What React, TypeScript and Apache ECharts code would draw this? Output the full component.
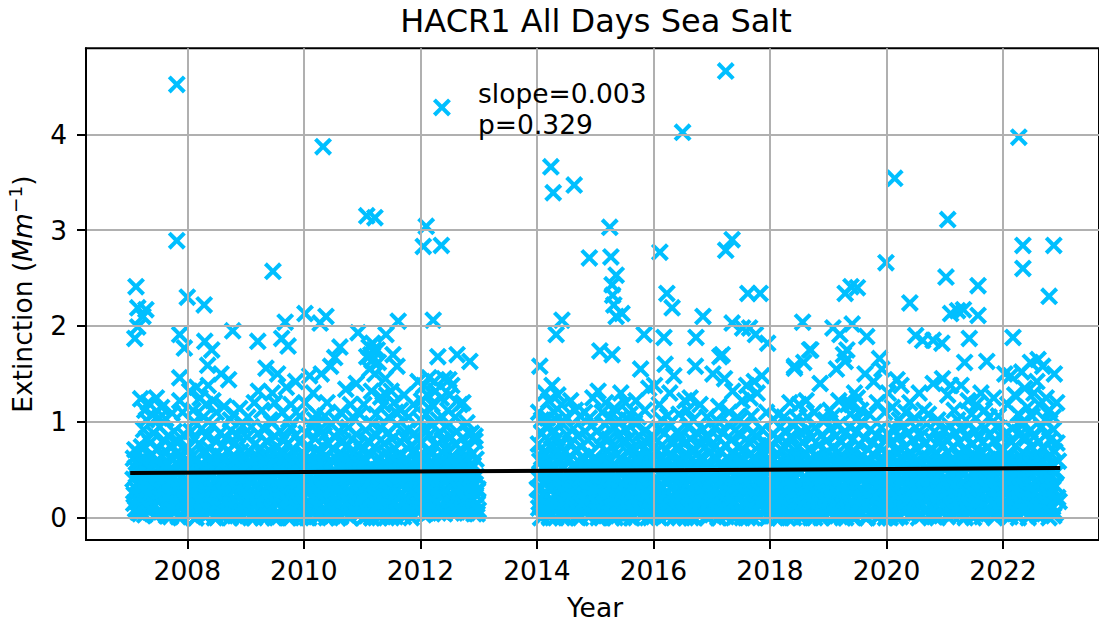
import React, { useEffect, useRef } from "react";
import * as echarts from "echarts";

const TITLE = "HACR1 All Days Sea Salt";
const X_TICKS = [2008, 2010, 2012, 2014, 2016, 2018, 2020, 2022];
const Y_TICKS = [0, 1, 2, 3, 4];
const TREND: [number, number][] = [[2007.02, 0.466], [2022.98, 0.518]];

// fraction of the year at which each reading of a year falls
const sampleOffsets = [
  .00,.013,.025,.038,.05,.063,.075,.088,.10,.113,.125,.138,.15,.163,.175,.188,
  .20,.213,.225,.238,.25,.263,.275,.288,.30,.313,.325,.338,.35,.363,.375,.388,
  .40,.413,.425,.438,.45,.463,.475,.488,.50,.513,.525,.538,.55,.563,.575,.588,
  .60,.613,.625,.638,.65,.663,.675,.688,.70,.713,.725,.738,.75,.763,.775,.788,
  .80,.813,.825,.838,.85,.863,.875,.888,.90,.913,.925,.938,.95,.963,.975,.988,
];
const sampleOffsetsB = [
  .006,.019,.031,.044,.056,.069,.081,.094,.106,.119,.131,.144,.156,.169,.181,.194,
  .206,.219,.231,.244,.256,.269,.281,.294,.306,.319,.331,.344,.356,.369,.381,.394,
  .406,.419,.431,.444,.456,.469,.481,.494,.506,.519,.531,.544,.556,.569,.581,.594,
  .606,.619,.631,.644,.656,.669,.681,.694,.706,.719,.731,.744,.756,.769,.781,.794,
  .806,.819,.831,.844,.856,.869,.881,.894,.906,.919,.931,.944,.956,.969,.981,.994,
];

const v2007 = [null,null,null,null,null,null,.62,.24,.71,.09,.45,.58,.16,.67,.33,.04,.52,.74,.28,.11,.92,.39,.61,.19,.83,.48,.07,.56,.30,.78,.13,.41,.66,.22,.88,.35,.02,.59,.47,.17,.72,.26,.95,.53,.06,.37,.64,.21,.81,.43,.10,.69,.29,.55,.85,.15,.40,.01,.76,.33,.60,.23,.90,.49,.08,.67,.36,.18,.79,.54,.27,.00,.63,.44,.12,.87,.31,.70,.20,.50];
const v2008 = [.38,.73,.11,.56,.25,.90,.03,.47,.65,.19,.82,.34,.00,.60,.42,.14,.77,.28,.52,.07,.93,.36,.68,.21,.49,.01,.85,.31,.59,.16,.72,.43,.09,.63,.26,.97,.54,.00,.39,.80,.18,.67,.30,.05,.57,.88,.23,.46,.12,.75,.35,.61,.02,.83,.27,.50,.15,.70,.40,.00,.91,.32,.64,.20,.53,.08,.78,.44,.24,.86,.13,.58,.37,.04,.69,.29,.96,.48,.17,.62];
const v2009 = [.55,.20,.84,.06,.41,.69,.28,.00,.95,.36,.62,.13,.50,.77,.23,.03,.44,.88,.31,.58,.10,.72,.38,.00,.65,.17,.92,.47,.26,.80,.05,.53,.33,.70,.12,.42,.99,.22,.60,.00,.85,.35,.48,.15,.74,.27,.57,.02,.90,.40,.19,.66,.30,.82,.08,.51,.24,.76,.00,.37,.63,.14,.94,.45,.29,.71,.04,.56,.18,.86,.34,.61,.11,.46,.79,.25,.00,.67,.39,.52];
const v2010 = [.29,.66,.04,.88,.43,.17,.75,.00,.54,.32,.96,.21,.60,.10,.47,.83,.36,.01,.70,.25,.57,.14,.92,.40,.68,.07,.50,.30,.86,.19,.63,.00,.44,.78,.23,.55,.12,.98,.37,.72,.02,.48,.27,.84,.16,.61,.34,.00,.90,.52,.09,.67,.41,.20,.80,.31,.58,.05,.74,.45,.13,.94,.28,.64,.00,.39,.82,.22,.53,.11,.69,.35,.87,.06,.49,.26,.77,.15,.59,.42];
const v2011 = [.70,.33,.00,.58,.15,.91,.45,.24,.80,.06,.52,.37,.66,.00,.98,.19,.43,.74,.28,.12,.86,.50,.31,.63,.00,.41,.94,.22,.56,.09,.77,.35,.16,.68,.47,.02,.89,.26,.60,.38,.00,.82,.13,.54,.30,.72,.44,.05,.97,.20,.65,.36,.11,.79,.49,.25,.57,.01,.84,.40,.17,.62,.32,.92,.07,.51,.27,.75,.42,.14,.67,.34,.88,.21,.59,.46,.10,.81,.29,.55];
const v2012 = [.46,.08,.79,.28,.61,.14,.93,.37,.52,.20,.70,.05,.86,.41,.25,.66,.11,.97,.33,.56,.18,.75,.44,.07,.63,.30,.89,.13,.50,.23,.81,.39,.58,.04,.72,.27,.95,.47,.16,.68,.35,.10,.84,.53,.22,.60,.42,.06,.77,.31,.90,.17,.55,.38,.12,.71,.26,.49,.83,.09,.64,.34,.20,.57,.05,.74,.45,.15,.87,.29,.51,.10,.67,.36,.06,.80,.24,.43,.04,.30];
const v2014 = [null,.42,.77,.16,.59,.00,.31,.88,.24,.68,.50,.09,.95,.37,.62,.14,.80,.01,.46,.28,.72,.55,.18,.91,.35,.65,.00,.43,.83,.22,.57,.11,.75,.39,.03,.98,.30,.52,.20,.69,.00,.47,.86,.26,.61,.13,.78,.36,.06,.54,.93,.23,.44,.70,.01,.33,.85,.17,.58,.40,.00,.74,.27,.64,.10,.49,.90,.32,.56,.15,.81,.38,.02,.67,.21,.96,.45,.12,.60,.29];
const v2015 = [.63,.19,.90,.34,.00,.53,.76,.26,.44,.08,.85,.58,.15,.37,.97,.02,.70,.23,.49,.82,.11,.60,.31,.00,.74,.41,.18,.94,.55,.28,.66,.05,.47,.87,.21,.35,.62,.12,.79,.00,.52,.30,.92,.16,.69,.43,.07,.83,.25,.57,.38,.00,.73,.14,.99,.48,.27,.64,.09,.40,.86,.20,.54,.33,.77,.03,.61,.17,.45,.91,.24,.67,.00,.50,.36,.81,.13,.59,.29,.72];
const v2016 = [.27,.84,.06,.51,.69,.17,.39,.93,.00,.60,.32,.75,.13,.47,.24,.88,.56,.02,.71,.36,.19,.97,.43,.65,.09,.30,.80,.54,.00,.41,.15,.73,.26,.90,.48,.62,.04,.34,.85,.21,.58,.11,.77,.44,.00,.67,.29,.95,.16,.52,.38,.82,.07,.61,.23,.46,.00,.70,.33,.89,.14,.55,.42,.78,.03,.28,.64,.18,.92,.49,.10,.74,.35,.57,.00,.83,.22,.45,.68,.12];
const v2017 = [.50,.13,.72,.31,.94,.05,.60,.24,.42,.83,.00,.55,.17,.69,.36,.88,.09,.46,.27,.76,.01,.63,.20,.98,.39,.53,.11,.81,.30,.66,.00,.44,.91,.16,.58,.35,.74,.06,.49,.22,.86,.62,.00,.33,.71,.14,.95,.41,.26,.56,.03,.79,.37,.19,.67,.47,.00,.89,.28,.61,.10,.52,.84,.23,.40,.75,.02,.57,.32,.92,.15,.65,.43,.07,.78,.25,.54,.00,.70,.34];
const v2018 = [.75,.30,.04,.59,.21,.87,.40,.12,.66,.48,.00,.81,.26,.54,.95,.16,.37,.70,.07,.45,.90,.23,.62,.33,.00,.77,.14,.51,.41,.85,.28,.03,.64,.19,.97,.56,.35,.10,.73,.47,.22,.89,.00,.60,.31,.79,.15,.43,.68,.05,.53,.92,.25,.38,.71,.11,.00,.83,.49,.20,.58,.34,.94,.08,.65,.27,.44,.76,.17,.52,.00,.86,.36,.13,.61,.42,.02,.80,.29,.69];
const v2019 = [.18,.61,.40,.93,.07,.52,.28,.74,.00,.46,.85,.15,.67,.35,.97,.23,.56,.03,.79,.42,.12,.63,.31,.88,.00,.50,.20,.72,.38,.95,.09,.58,.26,.44,.82,.16,.69,.00,.34,.90,.54,.05,.76,.29,.47,.13,.65,.99,.22,.41,.83,.00,.60,.33,.10,.71,.51,.25,.92,.17,.45,.78,.04,.37,.64,.19,.86,.55,.00,.30,.73,.11,.48,.94,.27,.62,.08,.39,.81,.21];
const v2020 = [.44,.87,.12,.66,.25,.00,.53,.79,.35,.16,.92,.47,.06,.70,.30,.59,.21,.84,.39,.01,.63,.14,.96,.49,.27,.74,.09,.55,.33,.88,.18,.42,.68,.03,.60,.24,.81,.50,.11,.37,.94,.20,.72,.45,.00,.57,.31,.85,.15,.65,.41,.07,.77,.28,.52,.98,.19,.36,.62,.02,.83,.46,.13,.71,.26,.56,.90,.10,.34,.67,.00,.48,.80,.22,.58,.38,.05,.75,.29,.91];
const v2021 = [.09,.54,.82,.31,.68,.17,.45,.96,.24,.60,.03,.74,.38,.13,.88,.50,.27,.65,.06,.42,.79,.21,.57,.93,.34,.11,.71,.47,.00,.85,.29,.62,.16,.40,.98,.52,.08,.76,.33,.19,.66,.44,.90,.04,.59,.25,.83,.36,.14,.69,.49,.01,.78,.30,.55,.94,.22,.41,.10,.73,.61,.18,.87,.35,.05,.51,.28,.80,.43,.15,.64,.95,.23,.39,.07,.70,.56,.12,.84,.32];
const v2022 = [.36,.71,.14,.58,.03,.89,.26,.47,.65,.10,.80,.41,.19,.93,.53,.31,.06,.75,.44,.22,.61,.00,.86,.34,.50,.16,.96,.68,.28,.08,.55,.40,.83,.20,.63,.12,.46,.91,.30,.74,.04,.57,.24,.85,.37,.15,.67,.49,.02,.79,.33,.60,.18,.95,.42,.09,.72,.27,.52,.87,.13,.38,.64,.00,.81,.45,.23,.56,.11,.92,.35,.69,.05,.48,.78,.21,.59,.17];

// second set of readings of each year, between the first set; only the lower part is drawn
const SECOND_SET_TOP = 0.64;
const w2007 = [null,null,null,null,null,.40,.15,.84,.52,.30,.97,.06,.37,.77,.22,.60,.12,.43,.89,.33,.55,.03,.69,.26,.46,.96,.17,.35,.64,.09,.50,.86,.28,.74,.42,.13,.57,.99,.31,.05,.67,.38,.20,.80,.48,.27,.93,.11,.54,.34,.72,.02,.44,.19,.85,.63,.25,.51,.94,.08,.41,.70,.16,.32,.82,.56,.23,.01,.47,.91,.36,.10,.75,.29,.58,.18,.98,.39,.07,.66];
const w2008 = [.60,.21,.44,.95,.08,.33,.70,.15,.52,.86,.27,.00,.62,.40,.12,.98,.34,.55,.18,.79,.45,.03,.66,.24,.90,.38,.10,.74,.50,.29,.84,.06,.42,.58,.17,.76,.31,.93,.12,.48,.00,.69,.22,.37,.87,.54,.09,.64,.28,.97,.41,.16,.72,.33,.05,.56,.81,.25,.46,.13,.67,.36,.94,.19,.51,.02,.78,.30,.61,.10,.43,.88,.23,.53,.00,.73,.35,.15,.83,.47];
const w2009 = [.12,.47,.75,.32,.96,.18,.58,.09,.40,.68,.24,.85,.00,.53,.34,.99,.14,.63,.43,.21,.78,.05,.50,.90,.29,.11,.59,.37,.73,.01,.45,.87,.20,.66,.31,.08,.55,.94,.26,.41,.72,.15,.52,.00,.83,.36,.64,.23,.03,.48,.97,.30,.12,.76,.56,.19,.42,.89,.07,.61,.33,.80,.00,.51,.25,.92,.16,.38,.69,.46,.10,.84,.28,.57,.02,.74,.35,.95,.22,.49];
const w2010 = [.50,.12,.79,.35,.00,.62,.26,.93,.44,.15,.71,.38,.05,.85,.56,.22,.98,.30,.11,.65,.46,.81,.02,.33,.58,.18,.95,.41,.75,.09,.27,.52,.89,.14,.67,.36,.00,.60,.47,.23,.83,.06,.40,.70,.31,.96,.13,.55,.24,.77,.01,.43,.87,.19,.64,.34,.10,.51,.99,.28,.72,.16,.39,.00,.59,.91,.25,.48,.07,.80,.32,.63,.17,.45,.94,.03,.56,.21,.74,.37];
const w2011 = [.23,.89,.48,.10,.61,.34,.02,.76,.17,.95,.40,.27,.83,.00,.53,.69,.08,.37,.97,.21,.59,.14,.44,.78,.03,.30,.66,.50,.92,.12,.25,.71,.39,.00,.86,.55,.18,.42,.99,.07,.63,.32,.75,.15,.49,.01,.88,.28,.57,.36,.10,.81,.23,.68,.43,.94,.04,.52,.19,.73,.31,.09,.60,.47,.85,.16,.38,.00,.70,.26,.96,.54,.11,.41,.79,.33,.06,.64,.20,.90];
const w2012 = [.18,.64,.36,.90,.03,.48,.23,.76,.40,.12,.98,.31,.57,.19,.83,.43,.07,.69,.27,.53,.94,.15,.38,.73,.05,.59,.34,.85,.21,.46,.10,.67,.29,.91,.54,.16,.41,.78,.08,.33,.62,.25,.99,.47,.13,.71,.37,.20,.56,.87,.06,.44,.30,.65,.15,.95,.39,.22,.58,.05,.75,.41,.11,.88,.32,.50,.24,.68,.09,.43,.81,.18,.55,.04,.72,.35,.61,.14,.28,.08];
const w2014 = [.30,.70,.10,.85,.45,.20,.63,.01,.36,.96,.26,.55,.13,.78,.41,.06,.66,.00,.90,.33,.51,.17,.74,.44,.24,.99,.08,.59,.37,.82,.15,.48,.29,.69,.00,.53,.92,.21,.40,.75,.11,.60,.34,.87,.03,.46,.27,.65,.18,.94,.38,.56,.09,.80,.31,.49,.00,.71,.23,.97,.42,.14,.62,.35,.86,.05,.52,.19,.77,.28,.43,.01,.68,.12,.91,.39,.54,.25,.83,.07];
const w2015 = [.41,.74,.06,.27,.88,.47,.12,.65,.33,.00,.95,.51,.22,.77,.39,.10,.59,.31,.90,.16,.45,.69,.04,.36,.83,.24,.56,.00,.99,.43,.13,.72,.29,.62,.09,.48,.86,.19,.35,.57,.02,.78,.25,.41,.94,.14,.66,.30,.53,.00,.81,.20,.44,.73,.07,.37,.92,.26,.60,.11,.50,.32,.84,.01,.68,.40,.15,.97,.28,.54,.08,.76,.34,.18,.63,.46,.00,.89,.23,.52];
const w2016 = [.61,.10,.37,.79,.22,.54,.01,.86,.45,.15,.68,.30,.96,.07,.50,.38,.74,.18,.58,.27,.91,.03,.42,.64,.12,.83,.33,.55,.20,.98,.47,.08,.70,.25,.39,.00,.87,.59,.16,.31,.76,.44,.05,.62,.35,.94,.11,.52,.23,.81,.40,.00,.66,.28,.14,.90,.49,.34,.72,.06,.56,.19,.43,.97,.26,.60,.09,.37,.78,.13,.53,.29,.85,.02,.47,.69,.17,.41,.93,.24];
const w2017 = [.28,.85,.40,.08,.64,.19,.77,.46,.00,.35,.93,.23,.57,.12,.70,.41,.03,.84,.30,.52,.16,.96,.37,.61,.07,.47,.25,.79,.14,.89,.54,.33,.01,.68,.43,.20,.98,.10,.59,.31,.73,.04,.45,.26,.87,.51,.17,.66,.36,.00,.92,.22,.55,.12,.42,.80,.29,.63,.06,.48,.97,.18,.38,.71,.02,.53,.27,.86,.15,.44,.67,.09,.34,.90,.58,.21,.00,.49,.74,.13];
const w2018 = [.52,.14,.88,.36,.02,.69,.44,.24,.91,.10,.57,.31,.78,.00,.42,.19,.96,.50,.27,.65,.06,.83,.38,.15,.59,.93,.22,.46,.71,.09,.33,.55,.00,.84,.41,.18,.64,.29,.99,.07,.48,.75,.13,.36,.56,.01,.87,.25,.40,.67,.20,.94,.32,.60,.04,.45,.80,.16,.72,.28,.52,.00,.90,.39,.11,.62,.23,.97,.47,.05,.74,.30,.54,.18,.85,.35,.09,.66,.43,.96];
const w2019 = [.34,.80,.05,.49,.24,.96,.14,.64,.38,.87,.02,.55,.25,.72,.11,.44,.90,.30,.60,.00,.53,.19,.83,.37,.68,.08,.46,.98,.28,.15,.75,.41,.01,.62,.33,.86,.21,.51,.10,.70,.43,.95,.16,.57,.31,.04,.78,.48,.27,.91,.13,.66,.36,.00,.84,.22,.59,.40,.06,.73,.29,.97,.54,.12,.47,.82,.23,.35,.65,.02,.89,.42,.17,.58,.09,.76,.32,.50,.00,.93];
const w2020 = [.71,.29,.04,.58,.95,.18,.41,.68,.10,.33,.83,.54,.23,.00,.75,.45,.13,.91,.27,.62,.36,.07,.51,.86,.20,.43,.97,.16,.64,.34,.78,.02,.48,.25,.89,.11,.56,.31,.69,.05,.40,.82,.22,.60,.94,.14,.37,.73,.03,.46,.28,.87,.18,.53,.09,.66,.33,.99,.42,.21,.76,.12,.58,.30,.85,.01,.49,.38,.70,.17,.92,.26,.44,.08,.63,.35,.96,.19,.52,.13];
const w2021 = [.66,.27,.41,.01,.93,.35,.58,.12,.79,.44,.20,.86,.50,.07,.32,.71,.17,.97,.39,.56,.02,.83,.25,.46,.68,.14,.90,.30,.61,.22,.42,.06,.75,.53,.11,.88,.37,.27,.63,.00,.95,.48,.16,.34,.72,.55,.09,.81,.40,.24,.99,.60,.13,.45,.03,.67,.31,.85,.19,.50,.36,.92,.08,.74,.26,.43,.15,.59,.00,.89,.33,.57,.10,.77,.47,.21,.94,.29,.65,.04];
const w2022 = [.53,.10,.85,.29,.68,.45,.16,.97,.38,.01,.60,.24,.77,.48,.12,.66,.36,.90,.05,.55,.28,.72,.15,.43,.94,.20,.62,.33,.07,.81,.50,.23,.69,.39,.00,.87,.14,.56,.31,.98,.44,.09,.74,.26,.52,.18,.91,.35,.63,.11,.42,.78,.03,.58,.27,.84,.47,.16,.70,.34,.96,.08,.54,.22,.41,.89,.13,.65,.30,.02,.76,.46,.19,.86];

const bandYears: [number, (number | null)[], (number | null)[]][] = [
  [2007, v2007, w2007], [2008, v2008, w2008], [2009, v2009, w2009], [2010, v2010, w2010],
  [2011, v2011, w2011], [2012, v2012, w2012], [2014, v2014, w2014], [2015, v2015, w2015],
  [2016, v2016, w2016], [2017, v2017, w2017], [2018, v2018, w2018], [2019, v2019, w2019],
  [2020, v2020, w2020], [2021, v2021, w2021], [2022, v2022, w2022],
];

// readings between about 1 and 1.6
const midPoints = [
  [2007.20,1.24],[2007.27,1.12],[2007.33,1.20],[2007.40,1.07],[2007.47,1.25],[2007.56,1.15],[2007.63,1.03],[2007.74,1.09],[2007.87,1.22],[2007.92,1.10],[2007.30,1.02],[2007.52,1.04],
  [2008.04,1.32],[2008.10,1.12],[2008.16,1.36],[2008.22,1.25],[2008.28,1.05],[2008.36,1.38],[2008.44,1.22],[2008.50,1.10],[2008.58,1.50],[2008.63,1.16],[2008.71,1.44],[2008.80,1.08],[2008.90,1.14],[2008.12,1.00],[2008.32,1.18],[2008.74,1.02],
  [2009.04,1.05],[2009.15,1.20],[2009.22,1.32],[2009.28,1.12],[2009.35,1.56],[2009.42,1.02],[2009.50,1.20],[2009.55,1.50],[2009.63,1.10],[2009.70,1.36],[2009.78,1.18],[2009.86,1.42],[2009.93,1.06],[2009.46,1.30],[2009.74,1.02],
  [2010.02,1.20],[2010.10,1.48],[2010.16,1.30],[2010.22,1.08],[2010.30,1.50],[2010.40,1.20],[2010.46,1.58],[2010.55,1.02],[2010.63,1.10],[2010.72,1.34],[2010.80,1.18],[2010.90,1.40],[2010.96,1.08],[2010.18,1.02],[2010.36,1.06],[2010.84,1.05],
  [2011.03,1.18],[2011.08,1.68],[2011.13,1.55],[2011.16,1.32],[2011.20,1.75],[2011.24,1.08],[2011.28,1.62],[2011.32,1.26],[2011.36,1.18],[2011.40,1.45],[2011.46,1.05],[2011.50,1.32],[2011.55,1.20],[2011.60,1.58],[2011.66,1.12],[2011.72,1.28],[2011.80,1.05],[2011.88,1.18],[2011.96,1.42],[2011.12,1.78],[2011.17,1.64],[2011.22,1.50],[2011.42,1.28],[2011.58,1.10],
  [2012.02,1.22],[2012.06,1.38],[2012.10,1.08],[2012.15,1.46],[2012.20,1.18],[2012.26,1.32],[2012.31,1.02],[2012.36,1.25],[2012.41,1.45],[2012.47,1.12],[2012.54,1.38],[2012.60,1.05],[2012.68,1.18],[2012.80,.99],[2012.88,.88],[2012.94,.85],[2012.00,1.02],[2012.12,1.28],[2012.24,1.42],[2012.38,1.05],[2012.50,1.28],
  [2014.03,1.10],[2014.08,1.02],[2014.14,1.30],[2014.20,1.22],[2014.26,1.38],[2014.30,1.10],[2014.36,1.28],[2014.42,1.18],[2014.50,1.05],[2014.58,1.22],[2014.66,1.12],[2014.74,1.06],[2014.82,1.10],[2014.90,1.04],[2014.96,1.25],[2014.18,1.04],[2014.33,1.02],
  [2015.05,1.32],[2015.12,1.10],[2015.18,1.20],[2015.26,1.05],[2015.33,1.14],[2015.40,1.02],[2015.44,1.30],[2015.52,1.20],[2015.60,1.08],[2015.70,1.22],[2015.78,1.55],[2015.85,1.12],[2015.92,1.35],[2015.56,1.02],[2015.74,1.05],
  [2016.02,1.38],[2016.10,1.18],[2016.20,1.60],[2016.28,1.30],[2016.35,1.48],[2016.44,1.08],[2016.54,1.22],[2016.63,1.25],[2016.72,1.58],[2016.80,1.18],[2016.92,1.05],[2016.14,1.02],[2016.24,1.06],[2016.58,1.12],[2016.68,1.02],
  [2017.02,1.50],[2017.08,1.02],[2017.14,1.68],[2017.22,1.45],[2017.30,1.10],[2017.36,1.32],[2017.44,1.05],[2017.52,1.22],[2017.60,1.38],[2017.66,1.25],[2017.73,1.42],[2017.78,1.30],[2017.86,1.48],[2017.94,1.10],[2017.12,1.16],[2017.48,1.02],[2017.68,1.06],
  [2018.06,1.02],[2018.14,1.08],[2018.24,1.05],[2018.34,1.20],[2018.42,1.56],[2018.50,1.18],[2018.58,1.62],[2018.62,1.22],[2018.70,1.75],[2018.76,1.10],[2018.86,1.40],[2018.95,1.02],[2018.46,1.04],[2018.64,1.05],
  [2019.03,1.12],[2019.08,1.06],[2019.14,1.55],[2019.18,1.22],[2019.26,1.70],[2019.33,1.18],[2019.38,1.08],[2019.45,1.30],[2019.50,1.25],[2019.56,1.12],[2019.63,1.50],[2019.70,1.08],[2019.78,1.42],[2019.84,1.20],[2019.92,1.55],[2019.97,1.10],[2019.40,1.18],[2019.48,1.02],
  [2020.03,1.30],[2020.10,1.15],[2020.18,1.44],[2020.25,1.38],[2020.33,1.10],[2020.40,1.20],[2020.48,1.04],[2020.56,1.30],[2020.64,1.12],[2020.72,1.08],[2020.80,1.40],[2020.88,1.02],[2020.96,1.45],[2020.22,1.02],
  [2021.05,1.28],[2021.10,1.38],[2021.16,1.12],[2021.22,1.02],[2021.28,1.38],[2021.34,1.62],[2021.40,1.22],[2021.46,1.08],[2021.54,1.18],[2021.62,1.30],[2021.68,1.12],[2021.76,1.05],[2021.84,1.25],[2021.92,1.06],
  [2022.03,1.50],[2022.08,1.18],[2022.13,1.48],[2022.20,1.28],[2022.26,1.08],[2022.32,1.52],[2022.37,1.35],[2022.42,1.15],[2022.47,1.62],[2022.53,1.30],[2022.58,1.42],[2022.62,1.18],[2022.68,1.58],[2022.74,1.25],[2022.80,1.12],[2022.88,1.50],[2022.92,1.20],[2022.86,1.05],[2022.34,1.00],[2022.50,1.06],[2022.72,1.02],
];

// high readings, well clear of the dense band
const highPoints = [
  [2007.82,4.52],[2007.82,2.89],[2007.12,2.41],[2007.15,2.19],[2007.29,2.17],[2007.24,2.10],[2007.10,1.87],[2007.15,1.99],
  [2008.00,2.30],[2008.29,2.22],[2007.87,1.91],[2007.95,1.77],[2007.87,1.46],[2008.30,1.84],[2008.42,1.75],[2008.35,1.59],
  [2008.78,1.95],[2009.21,1.84],[2009.47,2.57],[2009.68,2.04],[2009.62,1.87],[2009.73,1.79],[2010.02,2.13],[2010.33,3.87],
  [2010.28,2.03],[2010.38,2.10],[2010.62,1.78],[2010.53,1.67],[2010.93,1.93],[2011.08,3.15],[2011.22,3.13],[2011.18,1.82],
  [2011.26,1.75],[2011.15,1.70],[2011.62,2.05],[2011.41,1.91],[2011.53,1.70],[2012.10,3.04],[2012.05,2.83],[2012.36,2.84],
  [2012.22,2.06],[2012.37,4.28],[2012.30,1.68],[2012.63,1.70],[2012.85,1.63],[2012.73,1.20],[2012.49,1.44],[2014.05,1.58],
  [2014.24,3.66],[2014.28,3.39],[2014.64,3.47],[2014.33,1.91],[2014.43,2.06],[2014.90,2.71],[2015.25,3.03],[2015.27,2.72],
  [2015.29,2.43],[2015.36,2.53],[2015.30,2.32],[2015.32,2.22],[2015.36,2.10],[2015.46,2.13],[2015.08,1.74],[2015.29,1.70],
  [2015.84,1.91],[2016.11,2.77],[2016.23,2.34],[2016.32,2.19],[2016.18,1.88],[2016.50,4.02],[2016.85,2.10],[2016.73,1.88],
  [2017.24,4.66],[2017.24,2.79],[2017.35,2.90],[2017.35,2.03],[2017.53,1.98],[2017.65,1.98],[2017.75,1.91],[2017.18,1.70],
  [2017.62,2.34],[2017.83,2.34],[2017.96,1.82],[2018.56,2.04],[2018.42,1.58],[2018.68,1.75],[2019.29,2.34],[2019.39,2.41],
  [2019.50,2.40],[2019.41,2.02],[2019.08,1.98],[2019.20,1.91],[2019.32,1.75],[2019.29,1.63],[2019.66,1.89],[2019.88,1.66],
  [2020.14,3.54],[2019.99,2.66],[2020.40,2.24],[2021.05,3.11],[2021.02,2.51],[2021.10,2.13],[2021.22,2.16],[2021.32,2.17],
  [2021.57,2.42],[2021.57,2.11],[2022.27,3.97],[2022.34,2.84],[2022.34,2.60],[2022.87,2.84],[2022.79,2.31],[2022.17,1.88],
  [2020.50,1.90],[2020.62,1.85],[2020.80,1.85],[2020.95,1.82],[2021.42,1.87],[2021.72,1.63],[2022.60,1.65],
];

const X_PATH = "path://M16 0L50 34L84 0L100 16L66 50L100 84L84 100L50 66L16 100L0 84L34 50L0 16Z";

export default function App() {
  const ref = useRef<HTMLDivElement>(null);
  useEffect(() => {
    document.body.style.margin = "0";
    const chart = echarts.init(ref.current!, undefined, { renderer: "svg" });
    const points: number[][] = [];
    bandYears.forEach(([year, vals, more]) => {
      vals.forEach((v, i) => {
        if (v !== null) points.push([year + sampleOffsets[i], v]);
      });
      more.forEach((v, i) => {
        if (v !== null && v <= SECOND_SET_TOP) points.push([year + sampleOffsetsB[i], v]);
      });
    });
    midPoints.forEach((p) => points.push(p));
    highPoints.forEach((p) => points.push(p));
    const font = "DejaVu Sans";
    chart.setOption({
      animation: false,
      backgroundColor: "#ffffff",
      title: {
        text: TITLE,
        left: 596,
        top: 5,
        padding: 0,
        textAlign: "center",
        textStyle: { fontFamily: font, fontSize: 32, fontWeight: "normal", color: "#000" },
      },
      grid: {
        left: 86, top: 48.3, right: 0, height: 491.7, outerBoundsMode: "none",
        show: true, borderColor: "#000", borderWidth: 2, backgroundColor: "#fff",
      },
      xAxis: {
        type: "value", min: 2006.262, max: 2023.646, z: 3,
        name: "Year", nameLocation: "middle", nameGap: 54,
        nameTextStyle: { fontFamily: font, fontSize: 26.5, color: "#000", padding: [0, 0, 0, 5] },
        axisLine: { show: true, onZero: false, lineStyle: { color: "#000", width: 2 } },
        axisTick: { show: true, length: 9, customValues: X_TICKS, lineStyle: { color: "#000", width: 2 } },
        axisLabel: { customValues: X_TICKS, formatter: (v: number) => String(v), margin: 17, fontFamily: font, fontSize: 26.5, color: "#000" },
        splitLine: { show: true, lineStyle: { color: "#b0b0b0", width: 2 } },
      },
      yAxis: {
        type: "value", min: -0.2327, max: 4.897, z: 3,
        name: "{a|Extinction (}{i|Mm}{s|\u22121}{a|)}", nameLocation: "middle", nameGap: 48,
        nameTextStyle: {
          fontFamily: font, fontSize: 26.5, color: "#000",
          rich: {
            a: { fontFamily: font, fontSize: 26.5, color: "#000" },
            i: { fontFamily: font, fontSize: 26.5, fontStyle: "oblique", color: "#000" },
            s: { fontFamily: font, fontSize: 18.5, color: "#000", verticalAlign: "top", lineHeight: 32 },
          },
        },
        axisLine: { show: true, onZero: false, lineStyle: { color: "#000", width: 2 } },
        axisTick: { show: true, length: 9, customValues: Y_TICKS, lineStyle: { color: "#000", width: 2 } },
        axisLabel: { customValues: Y_TICKS, formatter: (v: number) => String(v), margin: 19, fontFamily: font, fontSize: 26.5, color: "#000" },
        splitLine: { show: true, lineStyle: { color: "#b0b0b0", width: 2 } },
      },
      series: [
        {
          type: "scatter", data: points, symbol: X_PATH, symbolSize: 18, z: 2, silent: true,
          itemStyle: { color: "#00BFFF", opacity: 1 },
        },
        {
          type: "line", data: TREND, showSymbol: false, z: 4, silent: true,
          lineStyle: { color: "#000", width: 4, cap: "butt" },
        },
      ],
      graphic: [
        { type: "text", left: 478, top: 80, z: 10, style: { text: "slope=0.003", fontFamily: font, fontSize: 26.5, fill: "#000" } },
        { type: "text", left: 478, top: 110.5, z: 10, style: { text: "p=0.329", fontFamily: font, fontSize: 26.5, fill: "#000" } },
      ],
    });
    return () => chart.dispose();
  }, []);
  return <div ref={ref} style={{ width: 1099, height: 623 }} />;
}
